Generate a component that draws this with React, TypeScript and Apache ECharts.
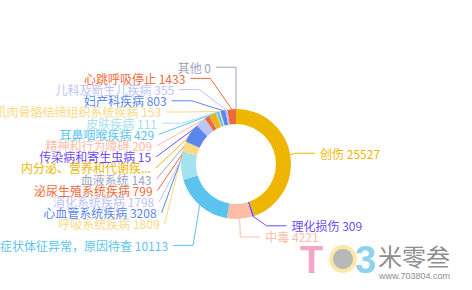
import React, { useEffect, useRef } from "react";
import * as echarts from "echarts";

const names = [
  "创伤",
  "理化损伤",
  "中毒",
  "症状体征异常，原因待查",
  "神经系统疾病",
  "呼吸系统疾病",
  "心血管系统疾病",
  "消化系统疾病",
  "泌尿生殖系统疾病",
  "血液系统",
  "内分泌、营养和代谢疾病",
  "传染病和寄生虫病",
  "精神和行为障碍",
  "耳鼻咽喉疾病",
  "皮肤疾病",
  "肌肉骨骼结缔组织系统疾病",
  "妇产科疾病",
  "儿科及新生儿疾病",
  "心跳呼吸停止",
  "其他",
];
const values = [
  25527, 309, 4221, 10113, 4670, 1809, 3208, 1798, 799, 143, 1000, 15, 209, 429,
  111, 153, 803, 355, 1433, 0,
];
const palette = [
  "#EEB600",
  "#6E4CF2",
  "#FDBDA7",
  "#5CC3EE",
  "#A3E2EF",
  "#F9DA88",
  "#5A86EE",
  "#BCC4F8",
  "#EE6A3A",
  "#9CA4BE",
];
const truncatedLabel = "内分泌、营养和代谢疾...";

export default function App() {
  const ref = useRef<HTMLDivElement>(null);
  useEffect(() => {
    const chart = echarts.init(ref.current!, null, { renderer: "svg" });
    const data = names.map((n, i) => {
      const item: any = { name: n, value: values[i] };
      if (n === "内分泌、营养和代谢疾病") {
        item.label = { formatter: truncatedLabel };
      }
      return item;
    });
    chart.setOption({
      animation: false,
      color: palette,
      series: [
        {
          type: "pie",
          top: 0,
          bottom: 38,
          center: [236, 164],
          radius: [40, 55],
          startAngle: 90,
          clockwise: true,
          avoidLabelOverlap: true,
          label: {
            formatter: "{b} {c}",
            overflow: "none",
            color: "inherit",
            fontSize: 12,
            minMargin: -0.8,
            fontFamily: "'Microsoft YaHei', 'Noto Sans CJK SC', sans-serif",
          },
          labelLine: { length: 10, length2: 20 },
          data,
        },
      ],
      graphic: [
        {
          type: "group",
          left: 300,
          top: 241,
          children: [
            { type: "text", x: 0, y: 0, style: { text: "T", fontSize: 38, fontWeight: "bold", fill: "#F4A6C8", fontFamily: "Arial" } },
            { type: "circle", shape: { cx: 43, cy: 18, r: 14 }, style: { fill: "#FBE7A6" } },
            { type: "circle", shape: { cx: 43, cy: 18, r: 10 }, style: { fill: "#B8B8B8" } },
            { type: "text", x: 55, y: 0, style: { text: "3", fontSize: 38, fontWeight: "bold", fill: "#8ED3EE", fontFamily: "Arial" } },
            { type: "text", x: 78, y: 2, style: { text: "米零叁", fontSize: 24, fill: "#8E8E8E", fontFamily: "'Noto Sans CJK SC'" } },
            { type: "text", x: 79, y: 30, style: { text: "www.703804.com", fontSize: 9, fill: "#8E8E8E", fontFamily: "Arial" } },
          ],
        },
      ],
    });
    return () => chart.dispose();
  }, []);
  return (
    <div
      ref={ref}
      style={{ position: "fixed", left: 0, top: 0, width: 472, height: 290, background: "#fff" }}
    />
  );
}
